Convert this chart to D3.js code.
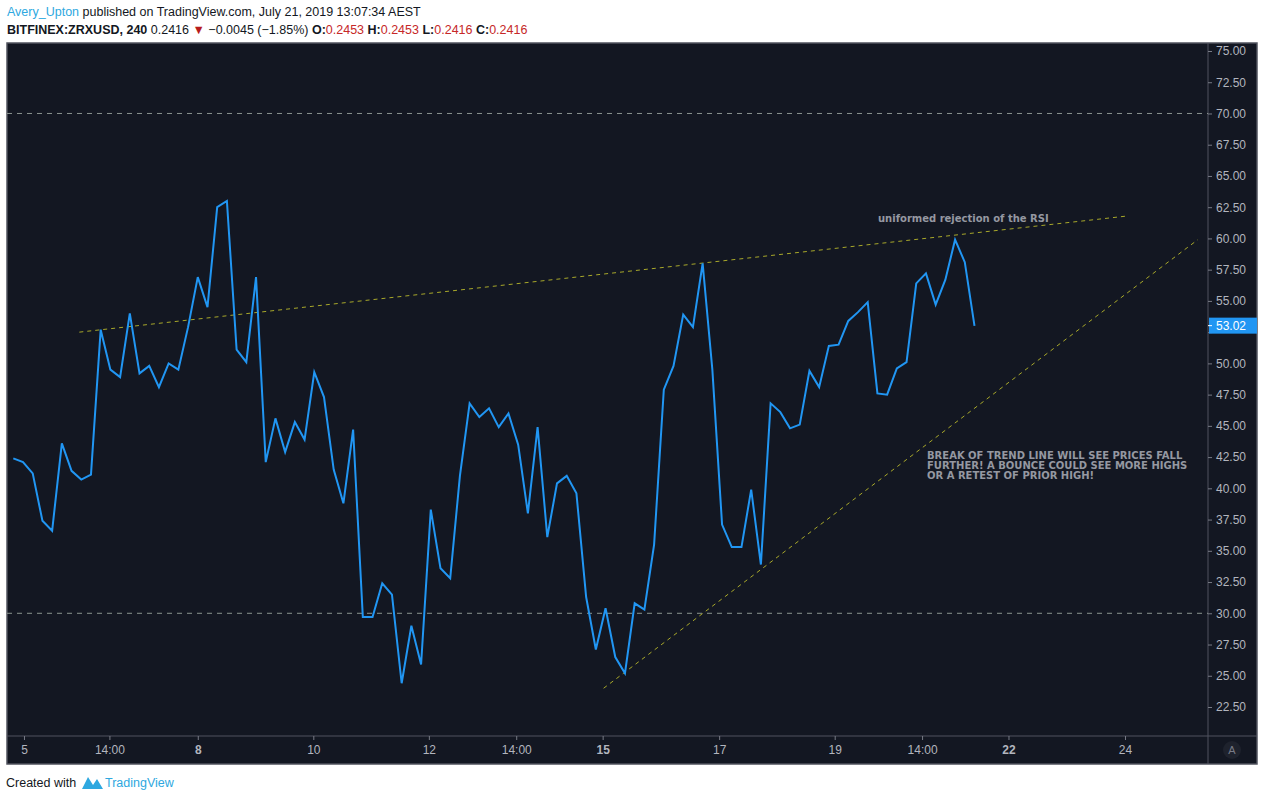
<!DOCTYPE html>
<html>
<head>
<meta charset="utf-8">
<script src="https://cdn.jsdelivr.net/npm/d3@7"></script>
<style>
  body { margin: 0; background: #fff; }
  svg { display: block; font-family: "Liberation Sans", "DejaVu Sans", sans-serif; }
</style>
</head>
<body>
<svg id="chart" width="1263" height="800"></svg>
<script>
'use strict'

// RSI values, one per 4h bar
const rsiValues = [
	42.4, 42.1, 41.2, 37.4, 36.6, 43.6, 41.4, 40.7, 41.1, 52.7,
	49.5, 48.9, 54.0, 49.2, 49.8, 48.1, 50.0, 49.5, 52.9, 56.9,
	54.5, 62.5, 63.0, 51.1, 50.1, 56.9, 42.1, 45.6, 42.9, 45.3,
	43.9, 49.3, 47.3, 41.5, 38.8, 44.7, 29.7, 29.7, 32.4, 31.5,
	24.4, 29.0, 25.9, 38.3, 33.6, 32.8, 41.0, 46.8, 45.7, 46.4,
	44.9, 46.0, 43.5, 38.0, 44.9, 36.1, 40.4, 41.0, 39.6, 31.3,
	27.1, 30.4, 26.5, 25.2, 30.8, 30.3, 35.5, 47.9, 49.8, 53.9,
	52.9, 58.0, 49.5, 37.1, 35.3, 35.3, 39.9, 33.9, 46.8, 46.1,
	44.8, 45.1, 49.4, 48.1, 51.4, 51.5, 53.4, 54.1, 54.9, 47.6,
	47.5, 49.6, 50.1, 56.4, 57.2, 54.7, 56.7, 59.9, 58.1, 53.0
]
const timeLabels = ['5', '14:00', '8', '10', '12', '14:00', '15', '17', '19', '14:00', '22', '24']
const timeLabelBars = [1.1, 9.9, 19.0, 30.9, 42.8, 51.8, 60.7, 72.7, 84.6, 93.6, 102.5, 114.5]
const boldLabels = ['8', '15', '22']
const priceTicks = [22.5, 25, 27.5, 30, 32.5, 35, 37.5, 40, 42.5, 45, 47.5, 50, 52.5, 55, 57.5, 60, 62.5, 65, 67.5, 70, 72.5, 75]
const levelLines = [30, 70]
// trend lines: [barStart, valueStart, barEnd, valueEnd]
const trendLines = [
	[6.8, 52.5, 114.8, 61.8],
	[60.8, 24.0, 122.0, 59.9]
]
const lastValue = 53.02

const bg = '#131722',
	textCol = '#b2b5be',
	lineCol = '#2196f3',
	trendCol = '#a8a82a',
	frame = { left: 7, right: 1257, top: 43, bottom: 764 },
	axisX = 1208,
	axisY = 736

const svg = d3.select('#chart')

const x = d3.scaleLinear().domain([0, 99]).range([13.3, 974.5])
const y = d3.scaleLinear().domain([22.5, 75]).range([707, 51])

// header
const h1 = svg.append('text').attr('x', 7).attr('y', 16).style('font-size', '12.5px').attr('fill', '#131722')
h1.append('tspan').attr('fill', '#2ea8e0').text('Avery_Upton')
h1.append('tspan').text(' published on TradingView.com, July 21, 2019 13:07:34 AEST')

const h2 = svg.append('text').attr('x', 7).attr('y', 34).style('font-size', '12.5px').attr('fill', '#131722')
h2.append('tspan').attr('font-weight', 'bold').text('BITFINEX:ZRXUSD, 240 ')
h2.append('tspan').text('0.2416 ')
h2.append('tspan').attr('fill', '#b71c1c').text('▼')
h2.append('tspan').text(' −0.0045 (−1.85%) ')
const ohlc = [['O:', '0.2453'], ['H:', '0.2453'], ['L:', '0.2416'], ['C:', '0.2416']]
ohlc.forEach(function(d) {
	h2.append('tspan').attr('font-weight', 'bold').text(d[0])
	h2.append('tspan').attr('fill', '#c62828').text(d[1] + ' ')
})

// frame
svg.append('rect')
	.attr('x', frame.left).attr('y', frame.top)
	.attr('width', frame.right - frame.left).attr('height', frame.bottom - frame.top)
	.attr('fill', bg).attr('stroke', '#50535e').attr('stroke-width', 1.5)
svg.append('line').attr('x1', axisX).attr('x2', axisX).attr('y1', frame.top).attr('y2', frame.bottom)
	.attr('stroke', '#50535e')
svg.append('line').attr('x1', frame.left).attr('x2', frame.right).attr('y1', axisY).attr('y2', axisY)
	.attr('stroke', '#50535e')

svg.append('clipPath').attr('id', 'plotClip').append('rect')
	.attr('x', frame.left).attr('y', frame.top).attr('width', axisX - frame.left).attr('height', axisY - frame.top)
const plot = svg.append('g').attr('clip-path', 'url(#plotClip)')

// 30 / 70 levels
plot.selectAll('.level').data(levelLines).enter().append('line')
	.attr('x1', frame.left).attr('x2', axisX)
	.attr('y1', d => y(d)).attr('y2', d => y(d))
	.attr('stroke', '#8a948f').attr('stroke-dasharray', '5,5')

// trend lines
plot.selectAll('.trend').data(trendLines).enter().append('line')
	.attr('x1', d => x(d[0])).attr('y1', d => y(d[1]))
	.attr('x2', d => x(d[2])).attr('y2', d => y(d[3]))
	.attr('stroke', trendCol).attr('stroke-dasharray', '4,4')

// RSI line
plot.append('path')
	.datum(rsiValues)
	.attr('d', d3.line().x((d, i) => x(i)).y(d => y(d)))
	.attr('fill', 'none').attr('stroke', lineCol).attr('stroke-width', 2)

// annotations
plot.append('text').attr('x', 878).attr('y', 222)
	.attr('fill', '#9598a1').attr('font-weight', 'bold').style('font-size', '10px')
	.style('font-family', '"DejaVu Sans", sans-serif')
	.text('uniformed rejection of the RSI')
const note = ['BREAK OF TREND LINE WILL SEE PRICES FALL', 'FURTHER! A BOUNCE COULD SEE MORE HIGHS', 'OR A RETEST OF PRIOR HIGH!']
plot.selectAll('.note').data(note).enter().append('text')
	.attr('x', 927).attr('y', (d, i) => 459 + i * 10)
	.attr('fill', '#9598a1').attr('font-weight', 'bold').style('font-size', '10px')
	.style('font-family', '"DejaVu Sans", sans-serif')
	.text(d => d)

// price axis (52.50 label sits under the last-value box)
const yAxis = svg.append('g').attr('transform', 'translate(' + axisX + ',0)')
	.call(d3.axisRight(y).tickValues(priceTicks).tickSize(4)
		.tickFormat(d => Math.abs(y(d) - y(lastValue)) < 12 ? '' : d3.format('.2f')(d)))
yAxis.select('.domain').remove()
yAxis.selectAll('line').attr('stroke', '#787b86')
yAxis.selectAll('text').attr('fill', textCol).style('font-size', '12px').attr('x', 8)

// last value label
const lv = svg.append('g').attr('transform', 'translate(' + axisX + ',' + y(lastValue) + ')')
lv.append('rect').attr('x', 1).attr('y', -8).attr('width', 48).attr('height', 16).attr('fill', lineCol)
lv.append('line').attr('x1', 0).attr('x2', 4).attr('stroke', '#fff')
lv.append('text').attr('x', 8).attr('dy', '0.35em').attr('fill', '#fff').style('font-size', '12px')
	.text(lastValue.toFixed(2))

// time axis
const xAxis = svg.append('g').attr('transform', 'translate(0,' + axisY + ')')
	.call(d3.axisBottom(x).tickValues(timeLabelBars).tickSize(4).tickFormat((d, i) => timeLabels[i]))
xAxis.select('.domain').remove()
xAxis.selectAll('line').attr('stroke', '#787b86')
xAxis.selectAll('text').attr('fill', textCol).style('font-size', '12px').attr('y', 9)
	.attr('font-weight', (d, i) => boldLabels.includes(timeLabels[i]) ? 'bold' : null)

// auto-scale button
svg.append('circle').attr('cx', 1232).attr('cy', 750).attr('r', 9).attr('fill', '#1e222d')
svg.append('text').attr('x', 1232).attr('y', 754).attr('text-anchor', 'middle')
	.attr('fill', '#787b86').style('font-size', '11px').text('A')

// footer
svg.append('text').attr('x', 6).attr('y', 787).style('font-size', '12.5px').attr('fill', '#131722')
	.text('Created with')
svg.append('path').attr('d', 'M82,789 L88,777 L93,785 L97,779 L103,789 Z').attr('fill', '#2ea8e0')
svg.append('text').attr('x', 105).attr('y', 787).style('font-size', '12.5px').attr('fill', '#2ea8e0').text('TradingView')
</script>
</body>
</html>
